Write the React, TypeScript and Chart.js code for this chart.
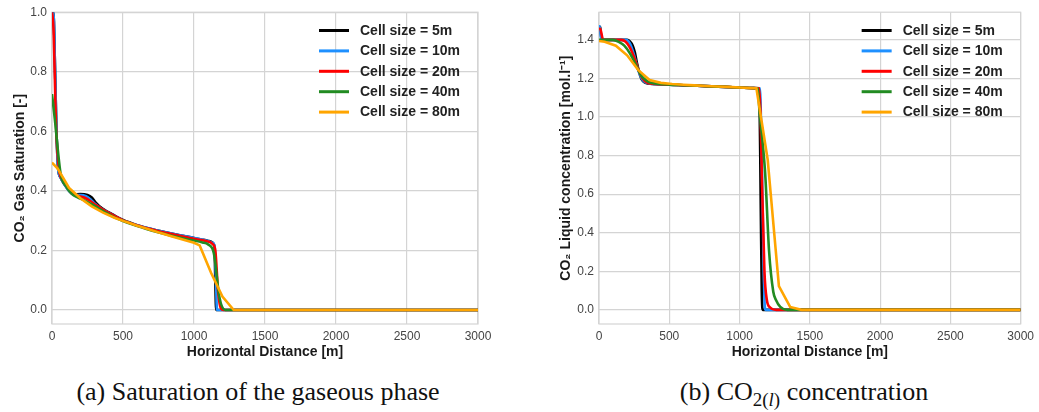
import React, { useEffect, useRef } from "react";
import { Chart, registerables } from "chart.js";

Chart.register(...registerables);

// ---------- shared ----------
const seriesLabels = ["Cell size = 5m", "Cell size = 10m", "Cell size = 20m", "Cell size = 40m", "Cell size = 80m"];
const seriesColors = ["#000000", "#1e90ff", "#ff0000", "#228b22", "#ffa500"];
const xTicks = [0, 500, 1000, 1500, 2000, 2500, 3000];
const satTicks = [0, 0.2, 0.4, 0.6, 0.8, 1.0];
const concTicks = [0, 0.2, 0.4, 0.6, 0.8, 1.0, 1.2, 1.4];

// ---------- (a) CO2 gas saturation ----------
const sat5X = [0, 10, 20, 30, 42, 60, 90, 120, 150, 200, 250, 280, 310, 350, 400, 450, 500, 600, 700, 800, 900, 1000, 1050, 1100, 1125, 1138, 1145, 1150, 1156, 3000];
const sat5Y = [1.0, 1.0, 0.84, 0.63, 0.48, 0.445, 0.42, 0.4, 0.388, 0.389, 0.386, 0.378, 0.36, 0.342, 0.328, 0.314, 0.302, 0.285, 0.272, 0.261, 0.251, 0.242, 0.237, 0.232, 0.228, 0.222, 0.205, 0.1, 0.0, 0.0];
const sat10X = [0, 10, 20, 30, 42, 60, 90, 130, 160, 200, 240, 270, 300, 350, 400, 500, 600, 700, 800, 900, 1000, 1100, 1130, 1145, 1155, 1162, 3000];
const sat10Y = [1.0, 1.0, 0.84, 0.63, 0.48, 0.445, 0.42, 0.395, 0.386, 0.386, 0.382, 0.372, 0.358, 0.34, 0.326, 0.301, 0.285, 0.272, 0.261, 0.251, 0.242, 0.232, 0.226, 0.215, 0.1, 0.0, 0.0];
const sat20X = [0, 10, 30, 50, 70, 110, 150, 190, 230, 270, 310, 350, 400, 500, 600, 700, 800, 900, 1000, 1050, 1090, 1130, 1150, 1170, 1190, 1210, 3000];
const sat20Y = [1.0, 0.95, 0.6, 0.47, 0.44, 0.41, 0.39, 0.382, 0.377, 0.366, 0.352, 0.34, 0.326, 0.301, 0.284, 0.271, 0.259, 0.249, 0.239, 0.235, 0.231, 0.222, 0.2, 0.06, 0.005, 0.0, 0.0];
const sat40X = [0, 20, 60, 100, 140, 180, 220, 260, 300, 340, 380, 420, 460, 500, 580, 660, 740, 820, 900, 980, 1060, 1100, 1140, 1180, 1220, 3000];
const sat40Y = [0.725, 0.64, 0.46, 0.415, 0.39, 0.378, 0.37, 0.36, 0.35, 0.338, 0.327, 0.316, 0.307, 0.299, 0.285, 0.273, 0.262, 0.252, 0.243, 0.235, 0.227, 0.22, 0.19, 0.04, 0.0, 0.0];
const sat80X = [0, 40, 120, 200, 280, 360, 440, 520, 600, 680, 760, 840, 920, 1000, 1040, 1120, 1200, 1280, 3000];
const sat80Y = [0.495, 0.475, 0.41, 0.375, 0.348, 0.327, 0.31, 0.296, 0.283, 0.271, 0.259, 0.248, 0.237, 0.226, 0.217, 0.125, 0.045, 0.0, 0.0];

// ---------- (b) CO2(l) concentration ----------
const conc5X = [0, 8, 18, 30, 200, 220, 240, 255, 270, 285, 300, 320, 345, 400, 500, 600, 700, 800, 900, 1000, 1100, 1135, 1142, 1150, 1158, 1165, 3000];
const conc5Y = [1.47, 1.465, 1.405, 1.4, 1.4, 1.392, 1.37, 1.335, 1.28, 1.235, 1.2, 1.182, 1.174, 1.171, 1.168, 1.165, 1.162, 1.159, 1.156, 1.153, 1.15, 1.149, 1.1, 0.6, 0.1, 0.0, 0.0];
const conc10X = [0, 5, 15, 25, 190, 210, 230, 250, 270, 290, 310, 335, 380, 500, 600, 700, 800, 900, 1000, 1100, 1145, 1155, 1170, 1178, 1185, 3000];
const conc10Y = [1.47, 1.47, 1.41, 1.4, 1.4, 1.392, 1.365, 1.32, 1.265, 1.22, 1.192, 1.178, 1.171, 1.168, 1.165, 1.162, 1.159, 1.156, 1.153, 1.15, 1.149, 0.9, 0.3, 0.04, 0.0, 0.0];
const conc20X = [0, 10, 30, 160, 190, 220, 250, 280, 310, 340, 380, 420, 500, 600, 700, 800, 900, 1000, 1100, 1140, 1150, 1160, 1177, 1194, 1218, 1260, 3000];
const conc20Y = [1.46, 1.455, 1.4, 1.4, 1.39, 1.36, 1.31, 1.245, 1.2, 1.18, 1.172, 1.17, 1.168, 1.165, 1.162, 1.159, 1.156, 1.153, 1.15, 1.149, 1.0, 0.65, 0.2, 0.052, 0.012, 0.0, 0.0];
const conc40X = [0, 100, 140, 180, 220, 260, 300, 340, 380, 420, 500, 600, 700, 800, 900, 1000, 1100, 1130, 1140, 1182, 1210, 1240, 1260, 1290, 1340, 3000];
const conc40Y = [1.4, 1.4, 1.39, 1.37, 1.33, 1.275, 1.215, 1.187, 1.176, 1.172, 1.168, 1.165, 1.162, 1.159, 1.156, 1.153, 1.15, 1.148, 1.05, 0.71, 0.305, 0.094, 0.05, 0.015, 0.0, 0.0];
const conc80X = [0, 40, 120, 200, 280, 360, 440, 520, 600, 680, 760, 840, 920, 1000, 1080, 1120, 1200, 1280, 1360, 1440, 3000];
const conc80Y = [1.394, 1.39, 1.37, 1.32, 1.243, 1.192, 1.177, 1.171, 1.167, 1.164, 1.161, 1.158, 1.156, 1.153, 1.15, 1.149, 0.78, 0.123, 0.015, 0.0, 0.0];

const satSeriesX = [sat5X, sat10X, sat20X, sat40X, sat80X];
const satSeriesY = [sat5Y, sat10Y, sat20Y, sat40Y, sat80Y];
const concSeriesX = [conc5X, conc10X, conc20X, conc40X, conc80X];
const concSeriesY = [conc5Y, conc10Y, conc20Y, conc40Y, conc80Y];

const GRID = "#d4d4d4";
const FONT = "'Liberation Sans', Arial, sans-serif";

const frameAndLegend = {
  id: "frameAndLegend",
  beforeDatasetsDraw(chart: any) {
    const { ctx, chartArea } = chart;
    ctx.save();
    ctx.strokeStyle = GRID;
    ctx.lineWidth = 1.2;
    ctx.strokeRect(chartArea.left, chartArea.top, chartArea.right - chartArea.left, chartArea.bottom - chartArea.top);
    ctx.restore();
  },
  afterDatasetsDraw(chart: any) {
    const { ctx, chartArea } = chart;
    ctx.save();
    ctx.font = `bold 14px ${FONT}`;
    ctx.textBaseline = "middle";
    ctx.textAlign = "left";
    chart.data.datasets.forEach((ds: any, i: number) => {
      const y = chartArea.top + 18.3 + i * 20.4;
      ctx.strokeStyle = ds.borderColor;
      ctx.lineWidth = 3;
      ctx.beginPath();
      ctx.moveTo(chartArea.right - 159, y);
      ctx.lineTo(chartArea.right - 129, y);
      ctx.stroke();
      ctx.fillStyle = "#222222";
      ctx.fillText(ds.label, chartArea.right - 118, y + 0.5);
    });
    ctx.restore();
  },
};

function makeConfig(
  xs: number[][],
  ys: number[][],
  yMin: number,
  yMax: number,
  yTicks: number[],
  yTitle: string,
  yTitlePad: number,
  yWidth: number,
  padding: any
): any {
  const datasets = xs.map((xArr, i) => ({
    label: seriesLabels[i],
    data: xArr.map((x, j) => ({ x, y: ys[i][j] })),
    borderColor: seriesColors[i],
    backgroundColor: seriesColors[i],
    borderWidth: 2.6,
    pointRadius: 0,
    fill: false,
    cubicInterpolationMode: i === 4 ? "default" : "monotone",
    tension: 0,
    order: 5 - i,
  }));
  return {
    type: "line",
    data: { datasets },
    plugins: [frameAndLegend],
    options: {
      animation: false,
      responsive: false,
      maintainAspectRatio: false,
      devicePixelRatio: 1,
      layout: { padding },
      plugins: { legend: { display: false }, tooltip: { enabled: false } },
      scales: {
        x: {
          type: "linear",
          min: 0,
          max: 3000,
          afterBuildTicks: (s: any) => {
            s.ticks = xTicks.map((v) => ({ value: v }));
          },
          afterFit: (s: any) => {
            s.height = 41;
          },
          grid: { color: GRID, lineWidth: 1.2, drawTicks: false },
          border: { display: false },
          ticks: {
            color: "#444444",
            font: { family: FONT, size: 12 },
            padding: 5,
            maxRotation: 0,
            callback: (v: any) => String(v),
          },
          title: {
            display: true,
            text: "Horizontal Distance [m]",
            color: "#1a1a1a",
            font: { family: FONT, size: 14, weight: "bold" },
            padding: { top: 0, bottom: 4 },
          },
        },
        y: {
          type: "linear",
          min: yMin,
          max: yMax,
          afterBuildTicks: (s: any) => {
            s.ticks = yTicks.map((v) => ({ value: v }));
          },
          afterFit: (s: any) => {
            s.width = yWidth;
          },
          grid: { color: GRID, lineWidth: 1.2, drawTicks: false },
          border: { display: false },
          ticks: {
            color: "#444444",
            font: { family: FONT, size: 12 },
            padding: 5,
            callback: (v: any) => Number(v).toFixed(1),
          },
          title: {
            display: true,
            text: yTitle,
            color: "#1a1a1a",
            font: { family: FONT, size: 14, weight: "bold" },
            padding: { top: yTitlePad, bottom: 0 },
          },
        },
      },
    },
  };
}

function ChartCanvas(props: { config: () => any; width: number; height: number; left: number }) {
  const ref = useRef<HTMLCanvasElement | null>(null);
  useEffect(() => {
    if (!ref.current) return;
    const chart = new Chart(ref.current, props.config());
    return () => chart.destroy();
  }, []);
  return (
    <canvas
      ref={ref}
      width={props.width}
      height={props.height}
      style={{ position: "absolute", left: props.left, top: 0, width: props.width, height: props.height }}
    />
  );
}

export default function App() {
  const captionStyle: any = {
    position: "absolute",
    top: 379,
    fontFamily: "'Liberation Serif', 'Times New Roman', serif",
    fontSize: 26,
    lineHeight: "26px",
    color: "#111",
    whiteSpace: "nowrap",
    transform: "translateX(-50%)",
  };
  return (
    <div style={{ position: "absolute", left: 0, top: 0, width: 1039, height: 412, background: "#ffffff", overflow: "hidden" }}>
      <ChartCanvas
        left={0}
        width={520}
        height={365}
        config={() =>
          makeConfig(satSeriesX, satSeriesY, -0.047, 1.0, satTicks, "CO\u2082 Gas Saturation [-]", 12, 52, { left: 0, top: 8, right: 42, bottom: 0 })
        }
      />
      <ChartCanvas
        left={520}
        width={519}
        height={365}
        config={() =>
          makeConfig(concSeriesX, concSeriesY, -0.0735, 1.5435, concTicks, "CO\u2082 Liquid concentration [mol.l\u207B\u00B9]", 38, 79, { left: 0, top: 7, right: 14, bottom: 0 })
        }
      />
      <div style={{ ...captionStyle, left: 258 }}>(a) Saturation of the gaseous phase</div>
      <div style={{ ...captionStyle, left: 804 }}>
        (b) CO
        <span style={{ fontSize: 19, position: "relative", top: 6 }}>
          2(<i>l</i>)
        </span>{" "}
        concentration
      </div>
    </div>
  );
}
